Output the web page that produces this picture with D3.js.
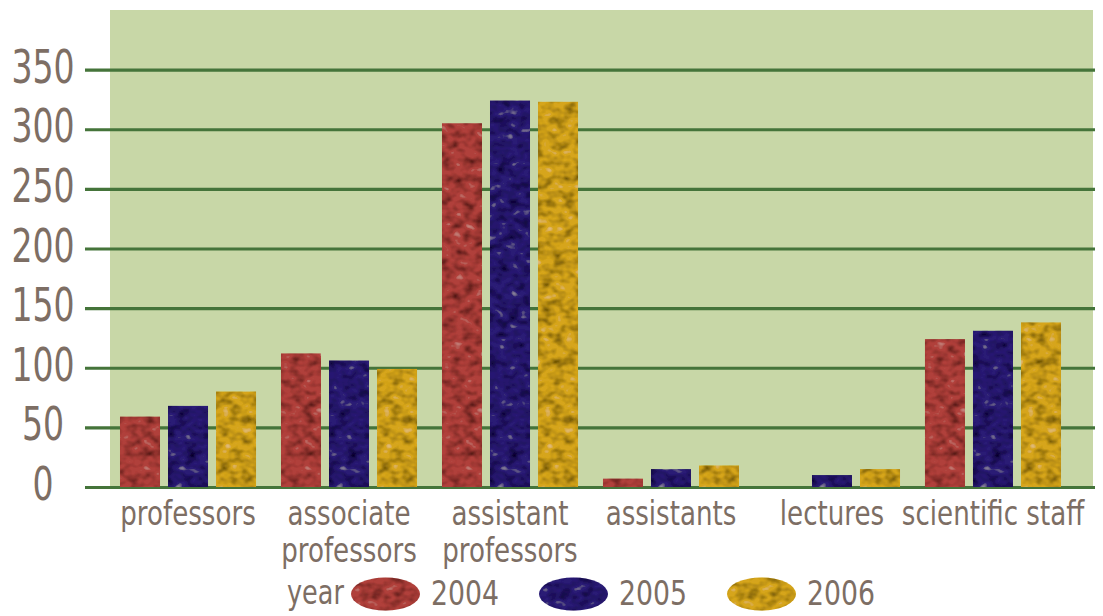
<!DOCTYPE html>
<html>
<head>
<meta charset="utf-8">
<script src="https://cdn.jsdelivr.net/npm/d3@7"></script>
<style>
  html, body { margin: 0; padding: 0; background: #ffffff; }
  svg { display: block; }
  text { font-family: "DejaVu Sans Condensed", "DejaVu Sans", sans-serif; fill: #7d6e64; }
</style>
</head>
<body>
<svg id="chart" width="1103" height="616"></svg>
<script>
// ---- data ----
const categories = ["professors", "associate professors", "assistant professors", "assistants", "lectures", "scientific staff"];
const categoryLines = [["professors"], ["associate", "professors"], ["assistant", "professors"], ["assistants"], ["lectures"], ["scientific staff"]];
const years = ["2004", "2005", "2006"];
const values2004 = [59, 112, 305, 7, 0, 124];
const values2005 = [68, 106, 324, 15, 10, 131];
const values2006 = [80, 99, 323, 18, 15, 138];
const yTicks = [0, 50, 100, 150, 200, 250, 300, 350];
const legendTitle = "year";

const seriesValues = [values2004, values2005, values2006];
const colors = ["#b0403a", "#2a1f74", "#d6a51c"];

// ---- layout ----
const svg = d3.select("#chart");
const defs = svg.append("defs");

// mottled texture filter
const f = defs.append("filter").attr("id", "tex")
  .attr("x", "0").attr("y", "0").attr("width", "1").attr("height", "1");
f.append("feTurbulence").attr("type", "fractalNoise").attr("baseFrequency", "0.09 0.12")
  .attr("numOctaves", 2).attr("seed", 7).attr("result", "noise");
f.append("feColorMatrix").attr("in", "noise").attr("type", "matrix")
  .attr("values", "0 0 0 0 0  0 0 0 0 0  0 0 0 0 0  1.8 0 0 0 -0.75").attr("result", "spots");
f.append("feComposite").attr("in", "spots").attr("in2", "SourceAlpha").attr("operator", "in").attr("result", "spotsIn");
f.append("feColorMatrix").attr("in", "noise").attr("type", "matrix")
  .attr("values", "0 0 0 0 1  0 0 0 0 0.9  0 0 0 0 0.8  -1.2 0 0 0 0.38").attr("result", "hl");
f.append("feComposite").attr("in", "hl").attr("in2", "SourceAlpha").attr("operator", "in").attr("result", "hlIn");
const fm = f.append("feMerge");
fm.append("feMergeNode").attr("in", "SourceGraphic");
fm.append("feMergeNode").attr("in", "spotsIn");
fm.append("feMergeNode").attr("in", "hlIn");

const y = d3.scaleLinear().domain([0, 400]).range([487, 10]);
const x0 = d3.scaleBand().domain(categories).range([107.5, 1073.5])
  .paddingInner(0.155).paddingOuter(0.0776);
const x1 = d3.scaleBand().domain(years).range([0, x0.bandwidth()]).paddingInner(0.1667).paddingOuter(0);

// helper: horizontally condensed text
function ctext(parent, x, yy, str, size, sx, anchor) {
  const g = parent.append("g").attr("transform", `translate(${x},${yy}) scale(${sx},1)`);
  return g.append("text").attr("font-size", size).attr("text-anchor", anchor || "start").text(str);
}

// plot background
svg.append("rect")
  .attr("x", 110).attr("y", y(400))
  .attr("width", 1093 - 110).attr("height", y(0) - y(400))
  .attr("fill", "#c8d7a7");

// gridlines
const yAxis = d3.axisLeft(y).tickValues(yTicks).tickSize(-(1095 - 85)).tickFormat("");
const gGrid = svg.append("g").attr("transform", "translate(85,0)").call(yAxis);
gGrid.select(".domain").remove();
gGrid.selectAll(".tick line").attr("stroke", "#45743a").attr("stroke-width", 3.2);

// y labels
const gy = svg.append("g");
yTicks.forEach(d => ctext(gy, 43, y(d) + 13, String(d), 46, 0.8, "middle"));

// bars
const groups = svg.append("g").selectAll("g").data(categories).join("g")
  .attr("transform", d => `translate(${x0(d)},0)`);
groups.selectAll("rect").data((c, ci) => years.map((yr, si) => ({ yr, si, v: seriesValues[si][ci] })))
  .join("rect")
  .filter(d => d.v > 0)
  .attr("x", d => x1(d.yr))
  .attr("width", x1.bandwidth())
  .attr("y", d => y(d.v))
  .attr("height", d => y(0) - y(d.v))
  .attr("fill", d => colors[d.si])
  .attr("filter", "url(#tex)");

// category labels
const gl = svg.append("g");
categories.forEach((c, i) => {
  categoryLines[i].forEach((ln, k) => {
    ctext(gl, x0(c) + x0.bandwidth() / 2, 525 + k * 37, ln, 33, 0.88, "middle");
  });
});

// legend
const glg = svg.append("g");
ctext(glg, 287, 604, legendTitle, 33, 0.86, "start");
const lx = d3.scalePoint().domain(years).range([351, 727]);
const lg = svg.append("g").selectAll("g").data(years).join("g")
  .attr("transform", d => `translate(${lx(d)},0)`);
lg.append("ellipse")
  .attr("cx", 34.5).attr("cy", 594).attr("rx", 34.5).attr("ry", 16.5)
  .attr("fill", (d, i) => colors[i])
  .attr("filter", "url(#tex)");
lg.each(function(d) { ctext(d3.select(this), 80, 605, d, 33, 0.9, "start"); });
</script>
</body>
</html>
